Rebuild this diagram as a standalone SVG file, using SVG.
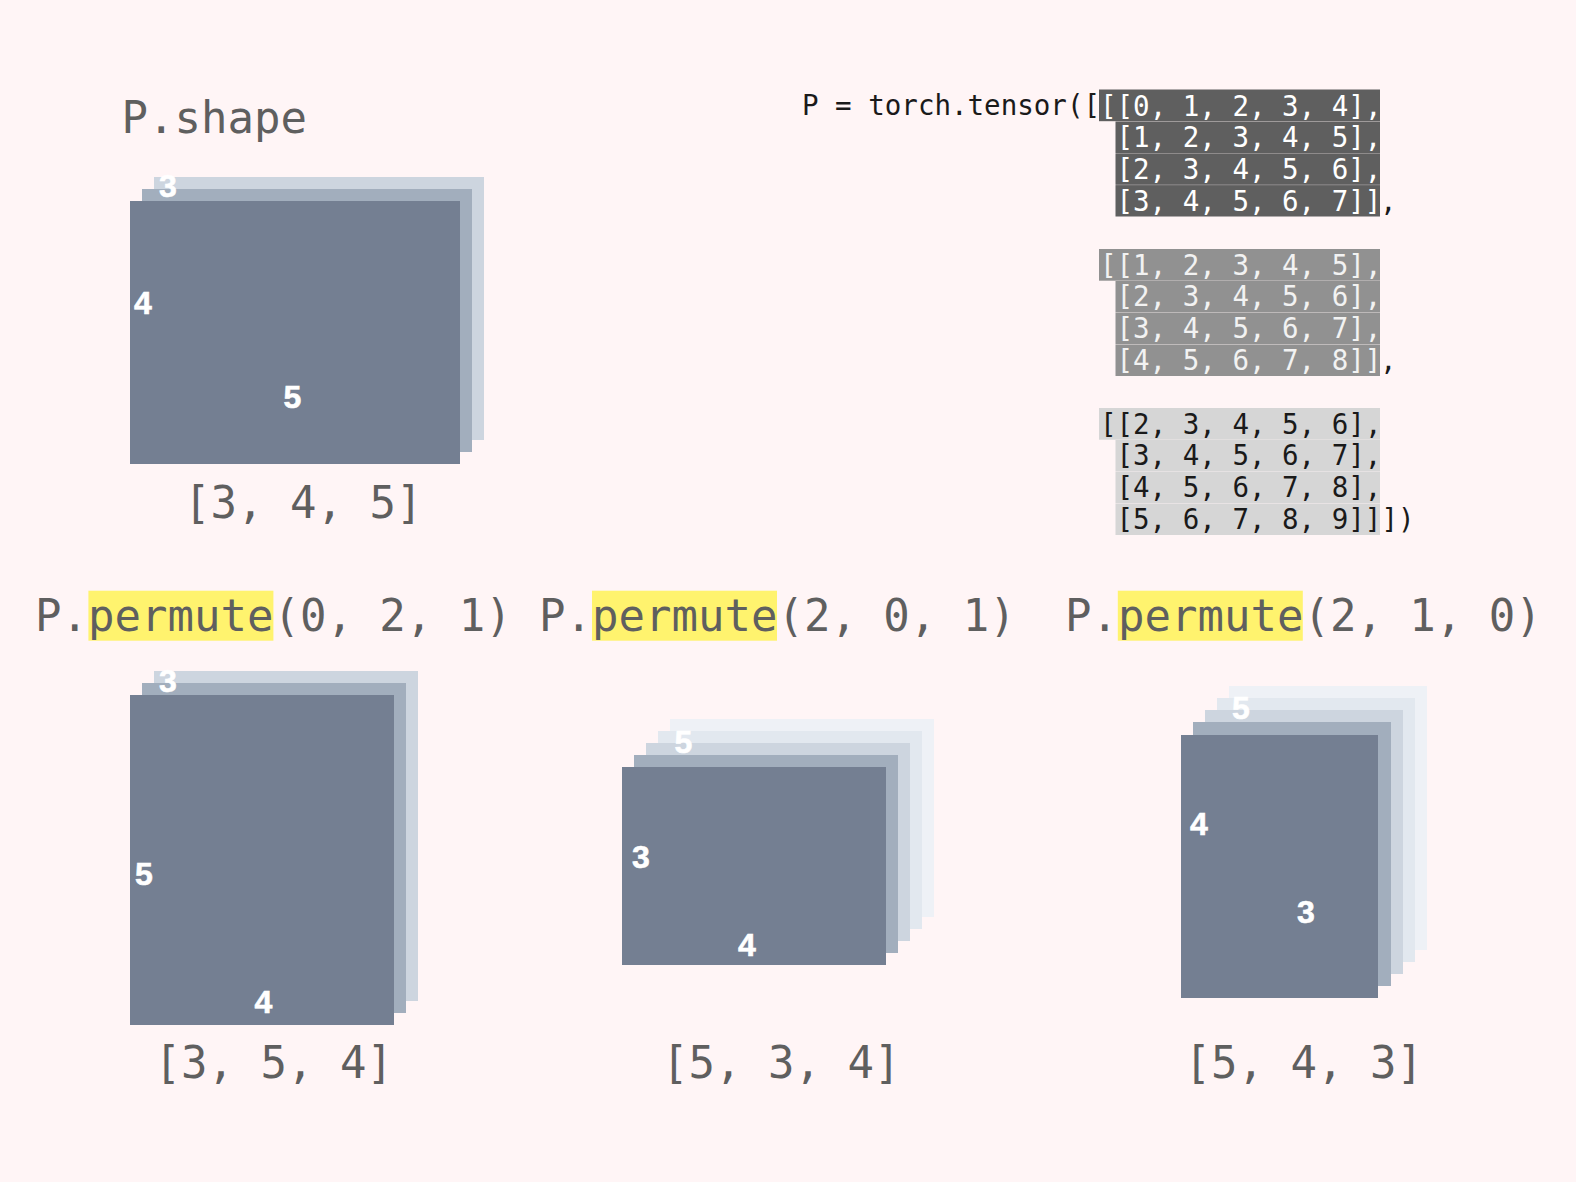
<svg xmlns="http://www.w3.org/2000/svg" width="1576" height="1182" viewBox="0 0 1576 1182">
<style>
.t{font-family:"DejaVu Sans Mono",monospace;font-size:44px;fill:#5f5f5f;white-space:pre}
.c{font-family:"DejaVu Sans Mono",monospace;font-size:27.5px;fill:#1a1a1a;white-space:pre}
.w{fill:#fff}.g{fill:#f2f2f2}
.n{font-family:"Liberation Sans",Arial,sans-serif;font-size:32px;font-weight:700;fill:#fff;stroke:#fff;stroke-width:.6px;text-anchor:middle}
.l1{fill:#747f92}.l2{fill:#a2aebd}.l3{fill:#cdd5df}.l4{fill:#e2e8ef}.l5{fill:#eef1f6}
.hl{fill:#fff36e}.d{fill:#5f5f5f}.m{fill:#919191}.s{fill:#d6d6d6}
</style>
<rect width="1576" height="1182" fill="#fff5f6"/>
<g id="title-shape"><text class="t" x="121.500" y="133">P.shape</text></g>
<g id="stack-345">
<rect class="l3" x="154" y="177" width="330" height="263"/>
<rect class="l2" x="142" y="189" width="330" height="263"/>
<rect class="l1" x="130" y="201" width="330" height="263"/>
<text class="n" x="168" y="197">3</text><text class="n" x="143" y="314">4</text><text class="n" x="292.500" y="408">5</text>
<text class="t" x="184" y="518">[3, 4, 5]</text>
</g>
<g id="code">
<text class="c" x="802" y="115">P = torch.tensor([</text>
<rect class="d" x="1099" y="89.500" width="281" height="31.700"/><rect class="d" x="1115.500" y="121.500" width="264.500" height="31.500"/><rect class="d" x="1115.500" y="153.300" width="264.500" height="31.500"/><rect class="d" x="1115.500" y="185.100" width="264.500" height="31.400"/>
<text class="c w" x="1100" y="115.500">[[0, 1, 2, 3, 4],</text><text class="c w" x="1116.500" y="147">[1, 2, 3, 4, 5],</text><text class="c w" x="1116.500" y="179">[2, 3, 4, 5, 6],</text><text class="c w" x="1116.500" y="211">[3, 4, 5, 6, 7]]</text>
<text class="c" x="1380" y="211">,</text>
<rect class="m" x="1099" y="249" width="281" height="31.700"/><rect class="m" x="1115.500" y="281" width="264.500" height="31.500"/><rect class="m" x="1115.500" y="312.800" width="264.500" height="31.500"/><rect class="m" x="1115.500" y="344.600" width="264.500" height="31.400"/>
<text class="c g" x="1100" y="274.500">[[1, 2, 3, 4, 5],</text><text class="c g" x="1116.500" y="306">[2, 3, 4, 5, 6],</text><text class="c g" x="1116.500" y="338">[3, 4, 5, 6, 7],</text><text class="c g" x="1116.500" y="370">[4, 5, 6, 7, 8]]</text>
<text class="c" x="1380" y="370">,</text>
<rect class="s" x="1099" y="408" width="281" height="31.700"/><rect class="s" x="1115.500" y="440" width="264.500" height="31.500"/><rect class="s" x="1115.500" y="471.800" width="264.500" height="31.500"/><rect class="s" x="1115.500" y="503.600" width="264.500" height="31.400"/>
<text class="c" x="1100" y="433.500">[[2, 3, 4, 5, 6],</text><text class="c" x="1116.500" y="465">[3, 4, 5, 6, 7],</text><text class="c" x="1116.500" y="497">[4, 5, 6, 7, 8],</text><text class="c" x="1116.500" y="529">[5, 6, 7, 8, 9]]])</text>
</g>
<g id="title-021"><rect class="hl" x="88.400" y="590.700" width="185" height="50"/><text class="t" x="35" y="630.700">P.permute(0, 2, 1)</text></g>
<g id="title-201"><rect class="hl" x="592" y="590.700" width="185" height="50"/><text class="t" x="539" y="630.700">P.permute(2, 0, 1)</text></g>
<g id="title-210"><rect class="hl" x="1117.800" y="590.700" width="185" height="50"/><text class="t" x="1065" y="630.700">P.permute(2, 1, 0)</text></g>
<g id="stack-354">
<rect class="l3" x="154" y="671" width="264" height="330"/>
<rect class="l2" x="142" y="683" width="264" height="330"/>
<rect class="l1" x="130" y="695" width="264" height="330"/>
<text class="n" x="168" y="692">3</text><text class="n" x="144" y="885">5</text><text class="n" x="263.500" y="1013">4</text>
<text class="t" x="154.500" y="1078">[3, 5, 4]</text>
</g>
<g id="stack-534">
<rect class="l5" x="670" y="719" width="264" height="198"/>
<rect class="l4" x="658" y="731" width="264" height="198"/>
<rect class="l3" x="646" y="743" width="264" height="198"/>
<rect class="l2" x="634" y="755" width="264" height="198"/>
<rect class="l1" x="622" y="767" width="264" height="198"/>
<text class="n" x="683.500" y="752.500">5</text><text class="n" x="641" y="868">3</text><text class="n" x="747" y="955.500">4</text>
<text class="t" x="662" y="1078">[5, 3, 4]</text>
</g>
<g id="stack-543">
<rect class="l5" x="1229" y="686" width="198" height="264"/>
<rect class="l4" x="1217" y="698" width="198" height="264"/>
<rect class="l3" x="1205" y="710" width="198" height="264"/>
<rect class="l2" x="1193" y="722" width="198" height="264"/>
<rect class="l1" x="1181" y="735" width="197" height="263"/>
<text class="n" x="1241" y="719">5</text><text class="n" x="1199" y="835">4</text><text class="n" x="1306" y="923">3</text>
<text class="t" x="1184.500" y="1078">[5, 4, 3]</text>
</g>
</svg>
